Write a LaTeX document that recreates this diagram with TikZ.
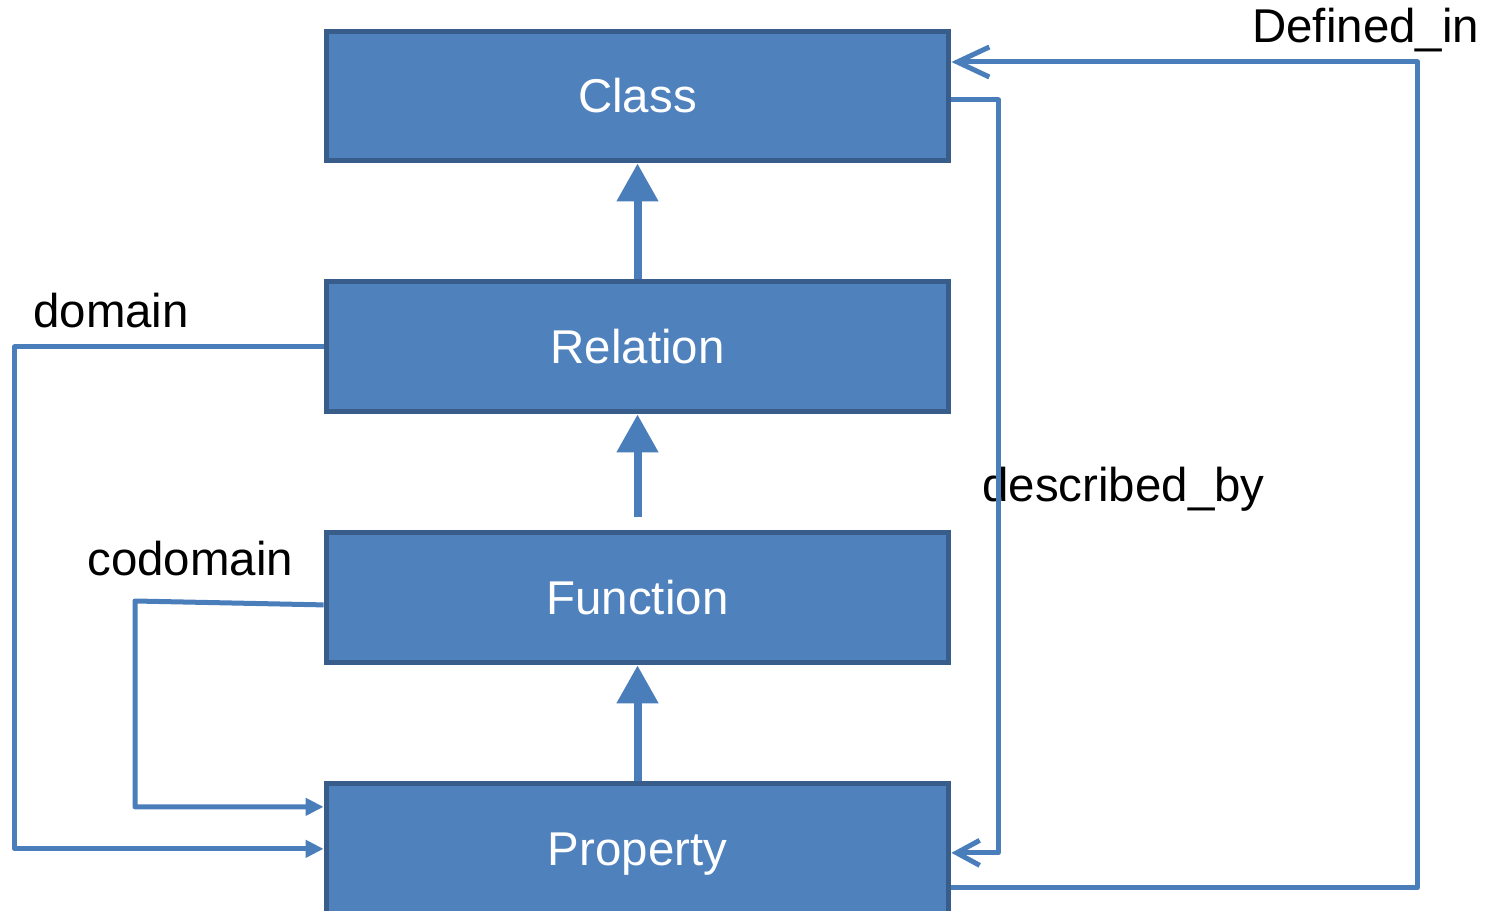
\documentclass[tikz,border=0pt]{standalone}
\usepackage{fontspec}
\setmainfont{Liberation Sans}
\usetikzlibrary{positioning, arrows.meta}
\definecolor{boxfill}{HTML}{4F81BD}
\definecolor{boxline}{HTML}{385D8A}
\definecolor{linkblue}{HTML}{4A7EBB}

\begin{document}
\begin{tikzpicture}[x=0.02cm, y=-0.02cm,
    box/.style={draw=boxline, fill=boxfill, line width=0.1cm, minimum width=12.46cm, minimum height=2.6cm, inner sep=0pt, text height=0.68cm, text depth=0pt, text=white, font=\fontsize{27}{32}\selectfont},
    lbl/.style={inner sep=0pt, anchor=base west, font=\fontsize{27}{32}\selectfont},
    isa/.style={draw=linkblue, line width=0.16cm, -{Triangle[length=0.76cm, width=0.8cm]}},
    link/.style={draw=linkblue, line width=0.1cm, line join=round, -{Triangle[length=0.36cm, width=0.34cm]}},
    back/.style={draw=linkblue, line width=0.1cm, line join=round}]
    \useasboundingbox (0,0) rectangle (1486,911);
    \node[box] (class) at (637.5,96) {Class};
    \node[box, below=2.32cm of class] (relation) {Relation};
    \node[box, below=2.32cm of relation] (function) {Function};
    \node[box, below=2.32cm of function] (property) {Property};
    \node[lbl] (domlbl) at (33,328) {domain};
    \node[lbl] (codomlbl) at (87,575) {codomain};
    \node[lbl] (desclbl) at (982,501) {described\_by};
    \node[lbl] (deflbl) at (1252,43) {Defined\_in};
    \coordinate (codom) at (135,601);
    \draw[isa] (relation.north) -- (class.south);
    \draw[isa] ([yshift=0.26cm]function.north) -- (relation.south);
    \draw[isa] (property.north) -- (function.south);
    \draw[link] (relation.west) -- ++(-309,0) |- (property.west);
    \draw[link] ([yshift=-0.14cm]function.west) -- (codom) |- ([yshift=0.84cm]property.west);
    \draw[back, -{Straight Barb[length=0.46cm, width=0.5cm]}] ([yshift=-0.08cm]class.east) -- ++(47,0) |- ([yshift=-0.08cm]property.east);
    \draw[back, -{Straight Barb[length=0.64cm, width=0.6cm]}] ([yshift=-0.78cm]property.east) -- ++(466,0) |- ([yshift=0.68cm]class.east);
\end{tikzpicture}
\end{document}
